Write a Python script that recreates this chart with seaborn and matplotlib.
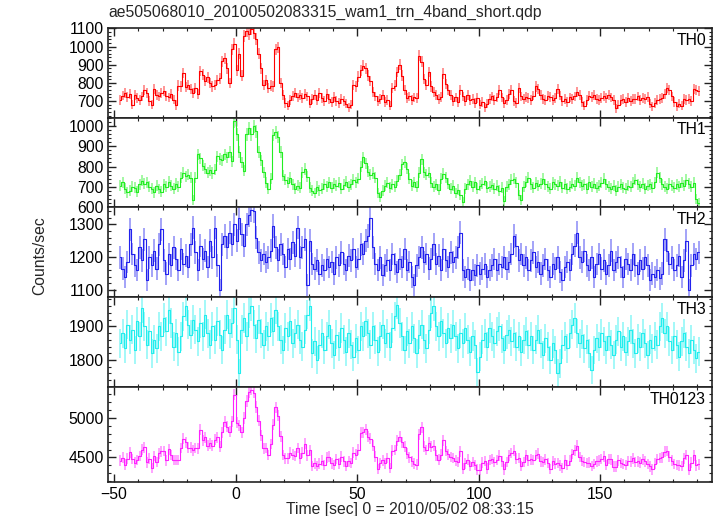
import numpy as np
import pandas as pd
import matplotlib
matplotlib.use("Agg")
import matplotlib.pyplot as plt
import seaborn as sns
from matplotlib.ticker import MultipleLocator

# ---------------- data (1 s bins, first bin centre at -47.5 s) ----------------
t_start = -47.5
bin_size = 1.0

th0 = [705, 730, 745, 722, 740, 680, 735, 718, 705, 725,
       758, 742, 700, 680, 765, 735, 725, 745, 755, 728,
       720, 740, 708, 678, 785, 780, 855, 775, 790, 765,
       745, 770, 740, 865, 845, 810, 830, 800, 780, 790,
       815, 825, 920, 935, 880, 800, 985, 1015, 870, 960,
       840, 1060, 1085, 1070, 1095, 1075, 1040, 960, 880, 790,
       815, 770, 785, 780, 985, 995, 800, 735, 690, 675,
       705, 728, 742, 720, 735, 718, 740, 725, 685, 712,
       735, 705, 745, 715, 700, 738, 712, 695, 722, 700,
       688, 710, 700, 685, 665, 680, 790, 780, 835, 870,
       895, 880, 840, 812, 750, 725, 700, 712, 735, 695,
       705, 675, 770, 785, 860, 900, 840, 760, 715, 725,
       705, 720, 715, 950, 915, 820, 790, 860, 780, 750,
       735, 712, 722, 850, 795, 760, 735, 700, 720, 695,
       762, 725, 700, 735, 705, 712, 690, 715, 680, 695,
       665, 685, 712, 725, 705, 720, 762, 720, 690, 705,
       740, 758, 700, 690, 772, 725, 710, 722, 715, 705,
       730, 780, 768, 735, 712, 705, 730, 722, 705, 715,
       765, 730, 700, 712, 695, 720, 712, 725, 748, 735,
       695, 675, 705, 730, 722, 735, 712, 705, 715, 728,
       715, 735, 720, 705, 660, 680, 705, 712, 695, 718,
       700, 710, 712, 725, 705, 715, 710, 722, 685, 670,
       690, 705, 712, 715, 740, 770, 760, 725, 695, 670,
       685, 675, 712, 705, 712, 700, 765, 760, 755]

th1 = [705, 722, 690, 672, 680, 700, 695, 675, 712, 730,
       715, 722, 700, 690, 672, 705, 688, 676, 712, 700,
       725, 705, 690, 715, 700, 745, 770, 752, 760, 745,
       635, 745, 860, 840, 805, 790, 770, 782, 768, 785,
       850, 838, 830, 860, 845, 870, 825, 1025, 960, 870,
       820, 780, 960, 990, 960, 1000, 975, 870, 830, 772,
       720, 690, 740, 955, 970, 945, 870, 755, 735, 720,
       745, 712, 690, 705, 695, 772, 788, 750, 695, 680,
       670, 700, 682, 690, 712, 700, 722, 695, 715, 705,
       720, 690, 710, 725, 700, 712, 735, 722, 740, 800,
       845, 815, 775, 760, 768, 745, 670, 650, 680, 705,
       720, 695, 712, 700, 730, 760, 810, 822, 790, 740,
       705, 722, 700, 770, 835, 772, 760, 770, 720, 700,
       712, 685, 740, 765, 745, 715, 690, 705, 670, 685,
       660, 625, 690, 712, 730, 700, 722, 690, 705, 715,
       728, 695, 700, 710, 690, 705, 680, 695, 630, 700,
       712, 735, 740, 720, 660, 632, 700, 725, 745, 712,
       695, 720, 705, 715, 740, 712, 700, 690, 722, 712,
       705, 725, 695, 712, 690, 700, 715, 705, 745, 722,
       705, 712, 690, 725, 700, 715, 695, 705, 720, 740,
       712, 700, 690, 705, 680, 700, 712, 695, 690, 705,
       700, 720, 735, 712, 700, 715, 690, 705, 712, 695,
       722, 770, 745, 712, 700, 690, 715, 705, 695, 712,
       700, 720, 705, 735, 715, 700, 720, 640, 618]

th2 = [1200, 1165, 1140, 1185, 1285, 1210, 1175, 1160, 1230, 1190,
       1255, 1130, 1200, 1175, 1220, 1165, 1240, 1285, 1190, 1150,
       1210, 1175, 1230, 1195, 1160, 1225, 1180, 1205, 1170, 1240,
       1290, 1215, 1160, 1235, 1195, 1220, 1170, 1250, 1200, 1290,
       1175, 1100, 1240, 1265, 1230, 1275, 1240, 1300, 1250, 1320,
       1270, 1235, 1300, 1330, 1345, 1340, 1260, 1215, 1190, 1210,
       1185, 1200, 1220, 1295, 1230, 1190, 1240, 1210, 1170, 1225,
       1195, 1245, 1205, 1290, 1200, 1230, 1255, 1115, 1250, 1180,
       1165, 1190, 1150, 1175, 1160, 1195, 1170, 1185, 1150, 1200,
       1175, 1215, 1180, 1160, 1205, 1190, 1225, 1170, 1195, 1240,
       1210, 1250, 1265, 1320, 1230, 1180, 1160, 1200, 1145, 1175,
       1190, 1160, 1210, 1180, 1155, 1195, 1170, 1225, 1160, 1185,
       1140, 1115, 1175, 1200, 1230, 1185, 1210, 1165, 1195, 1240,
       1180, 1205, 1160, 1225, 1190, 1170, 1215, 1185, 1200, 1230,
       1275, 1160, 1140, 1165, 1130, 1160, 1145, 1175, 1150, 1165,
       1180, 1140, 1160, 1175, 1195, 1160, 1180, 1170, 1200, 1165,
       1185, 1210, 1265, 1235, 1190, 1210, 1175, 1200, 1160, 1190,
       1215, 1170, 1185, 1150, 1175, 1195, 1160, 1140, 1180, 1165,
       1200, 1155, 1130, 1170, 1185, 1160, 1210, 1235, 1275, 1200,
       1185, 1220, 1175, 1160, 1200, 1140, 1180, 1210, 1165, 1190,
       1150, 1175, 1220, 1160, 1185, 1200, 1170, 1140, 1195, 1180,
       1160, 1210, 1175, 1150, 1190, 1165, 1200, 1175, 1130, 1150,
       1140, 1160, 1135, 1150, 1255, 1220, 1180, 1200, 1160, 1175,
       1205, 1140, 1190, 1250, 1100, 1175, 1210, 1195, 1215]

th3 = [1850, 1880, 1835, 1905, 1860, 1890, 1830, 1915, 1870, 1955,
       1900, 1845, 1885, 1820, 1860, 1835, 1900, 1870, 1925, 1885,
       1950, 1910, 1840, 1880, 1825, 1870, 1930, 1960, 1905, 1875,
       1920, 1890, 1855, 1910, 1870, 1935, 1880, 1845, 1900, 1860,
       1915, 1875, 1830, 1890, 1935, 1880, 1910, 1955, 1860, 1760,
       1890, 1925, 1870, 1940, 1960, 1905, 1865, 1920, 1880, 1845,
       1900, 1870, 1925, 1885, 1950, 1900, 1860, 1830, 1895, 1870,
       1915, 1850, 1880, 1905, 1860, 1840, 1890, 1935, 1960, 1820,
       1855, 1800, 1845, 1880, 1830, 1870, 1905, 1850, 1815, 1875,
       1840, 1895, 1860, 1825, 1880, 1845, 1810, 1865, 1830, 1900,
       1870, 1915, 1880, 1845, 1900, 1860, 1825, 1870, 1905, 1850,
       1880, 1840, 1895, 1930, 1965, 1910, 1870, 1830, 1885, 1850,
       1900, 1865, 1820, 1875, 1905, 1860, 1835, 1890, 1940, 1960,
       1900, 1870, 1915, 1880, 1850, 1895, 1865, 1905, 1870, 1835,
       1880, 1850, 1895, 1860, 1825, 1870, 1845, 1765, 1810, 1860,
       1880, 1840, 1895, 1870, 1850, 1885, 1900, 1865, 1830, 1875,
       1890, 1855, 1880, 1840, 1870, 1825, 1860, 1885, 1845, 1870,
       1830, 1860, 1890, 1850, 1815, 1865, 1840, 1800, 1850, 1830,
       1760, 1790, 1845, 1870, 1835, 1880, 1905, 1925, 1880, 1850,
       1875, 1835, 1860, 1820, 1770, 1830, 1865, 1840, 1880, 1855,
       1830, 1870, 1845, 1815, 1860, 1885, 1840, 1870, 1825, 1855,
       1890, 1850, 1820, 1865, 1840, 1880, 1850, 1815, 1860, 1835,
       1870, 1845, 1900, 1925, 1880, 1900, 1855, 1830, 1870, 1845,
       1810, 1855, 1880, 1840, 1820, 1860, 1830, 1805, 1825]

band_names = ["TH0", "TH1", "TH2", "TH3", "TH0123"]
band_colors = ["#ff0000", "#22ee22", "#2222ee", "#22eeee", "#ff22ff"]
y_limits = [(608, 1102), (597, 1042), (1078, 1352), (1720, 1987), (4190, 5394)]
y_major = [100, 100, 100, 100, 500]
y_minor = [20, 20, 20, 20, 100]
x_limits = (-52.5, 196)

title_text = "ae505068010_20100502083315_wam1_trn_4band_short.qdp"
x_label = "Time [sec] 0 = 2010/05/02 08:33:15"
y_label = "Counts/sec"

# ---------------- build table ----------------
time = t_start + bin_size * np.arange(len(th0))
bands = [np.array(th0, float), np.array(th1, float), np.array(th2, float), np.array(th3, float)]
bands.append(bands[0] + bands[1] + bands[2] + bands[3])  # TH0123 is the sum of the four bands

frames = []
for name, vals in zip(band_names, bands):
    frames.append(pd.DataFrame({"time": time, "rate": vals,
                                "err": np.sqrt(vals * bin_size) / bin_size, "band": name}))
df = pd.concat(frames, ignore_index=True)

# ---------------- plot ----------------
sns.set_theme(style="white")
plt.rcParams["font.family"] = ["Liberation Sans", "DejaVu Sans"]
plt.rcParams["axes.unicode_minus"] = True

fig, axes = plt.subplots(5, 1, sharex=True, figsize=(7.17, 5.16), dpi=100,
                         gridspec_kw=dict(height_ratios=[1, 1, 1, 1, 1.06], hspace=0))
fig.subplots_adjust(left=0.1506, right=0.993, top=0.9457, bottom=0.066)

fs = 11.3
for ax, name, col, ylim, ymaj, ymin in zip(axes, band_names, band_colors,
                                            y_limits, y_major, y_minor):
    sub = df[df["band"] == name]
    ax.errorbar(sub["time"], sub["rate"], yerr=sub["err"], fmt="none",
                ecolor=col, elinewidth=1.3, alpha=0.45, capsize=0, zorder=2)
    sns.lineplot(data=sub, x="time", y="rate", ax=ax, color=col, lw=0.8,
                 drawstyle="steps-mid", estimator=None, sort=False,
                 errorbar=None, zorder=3)
    ax.set_xlim(*x_limits)
    ax.set_ylim(*ylim)
    ax.yaxis.set_major_locator(MultipleLocator(ymaj))
    ax.yaxis.set_minor_locator(MultipleLocator(ymin))
    ax.xaxis.set_major_locator(MultipleLocator(50))
    ax.xaxis.set_minor_locator(MultipleLocator(10))
    ax.tick_params(which="both", direction="in", top=True, right=True,
                   bottom=True, left=True, colors="#222222", labelsize=fs,
                   labelcolor="black")
    ax.tick_params(which="major", length=5.5, width=1.0)
    ax.tick_params(which="minor", length=2.5, width=0.8)
    ax.tick_params(axis="y", pad=3)
    for s in ax.spines.values():
        s.set_linewidth(1.2)
        s.set_color("#222222")
    ax.set_ylabel("")
    ax.set_xlabel("")
    ax.text(0.99, 0.95, name, transform=ax.transAxes, ha="right", va="top",
            fontsize=fs, color="black")

axes[-1].set_xlabel(x_label, fontsize=fs, labelpad=0)
axes[-1].tick_params(axis="x", pad=4)
fig.text(108 / 717, 1 - 12 / 516, title_text, ha="left", va="center", fontsize=fs)
fig.text(40 / 717, 1 - 256 / 516, y_label, ha="center", va="center",
         rotation=90, fontsize=fs)

fig.savefig("out.png", dpi=100)
